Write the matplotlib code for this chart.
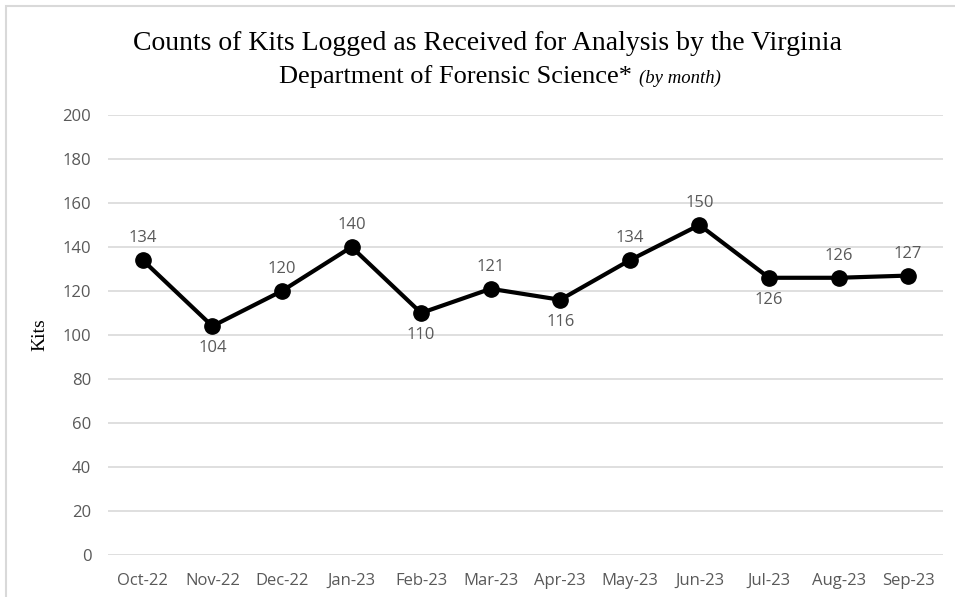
import matplotlib.pyplot as plt
from matplotlib.patches import Rectangle

months = ['Oct-22', 'Nov-22', 'Dec-22', 'Jan-23', 'Feb-23', 'Mar-23',
          'Apr-23', 'May-23', 'Jun-23', 'Jul-23', 'Aug-23', 'Sep-23']
kits = [134, 104, 120, 140, 110, 121, 116, 134, 150, 126, 126, 127]
# label above (1) or below (-1) the point
label_side = [1, -1, 1, 1, -1, 1, -1, 1, 1, -1, 1, 1]

fig = plt.figure(figsize=(9.55, 5.97), dpi=100)
ax = fig.add_axes([0.1131, 0.0704, 0.8743, 0.737])

# grey frame around the chart
fig.patches.append(Rectangle((6/955, -0.1), 1.2, 1 - 6/597 + 0.1,
                             transform=fig.transFigure, fill=False,
                             edgecolor='#d9d9d9', linewidth=1.5))

x = range(len(months))
ax.plot(x, kits, color='black', linewidth=3, marker='o', markersize=11,
        zorder=3)

for i, v in enumerate(kits):
    if label_side[i] > 0:
        ax.annotate(str(v), (i, v), xytext=(0, 10), textcoords='offset points',
                    ha='center', va='bottom', fontsize=12, color='#595959',
                    family='Open Sans')
    else:
        ax.annotate(str(v), (i, v), xytext=(0, -10), textcoords='offset points',
                    ha='center', va='top', fontsize=12, color='#595959',
                    family='Open Sans')

ax.set_xlim(-0.5, len(months) - 0.5)
ax.set_ylim(0, 200)
ax.set_yticks(range(0, 201, 20))
ax.set_xticks(list(x))
ax.set_xticklabels(months)
ax.tick_params(length=0, labelsize=12, labelcolor='#595959')
ax.tick_params(axis='x', pad=13)
ax.tick_params(axis='y', pad=12)
for lab in ax.get_xticklabels() + ax.get_yticklabels():
    lab.set_family('Open Sans')
ax.yaxis.grid(True, color='#d9d9d9', linewidth=1.2)
ax.set_axisbelow(True)
for s in ax.spines.values():
    s.set_visible(False)

ax.set_ylabel('Kits', family='Liberation Serif', fontsize=14, labelpad=10)

fig.text(487/955, 1 - 43/597, 'Counts of Kits Logged as Received for Analysis by the Virginia',
         family='Liberation Serif', fontsize=20, ha='center', va='center')

# second title line: normal part + italic part, centred together
renderer = fig.canvas.get_renderer()
t1 = fig.text(0, 1 - 77/597, 'Department of Forensic Science* ',
              family='Liberation Serif', fontsize=19, va='center')
t2 = fig.text(0, 1 - 78/597, '(by month)', family='Liberation Serif',
              style='italic', fontsize=13.5, va='center')
w1 = t1.get_window_extent(renderer).width / fig.bbox.width
w2 = t2.get_window_extent(renderer).width / fig.bbox.width
start = 500/955 - (w1 + w2) / 2
t1.set_x(start)
t2.set_x(start + w1)

fig.savefig('out.png', dpi=100)
